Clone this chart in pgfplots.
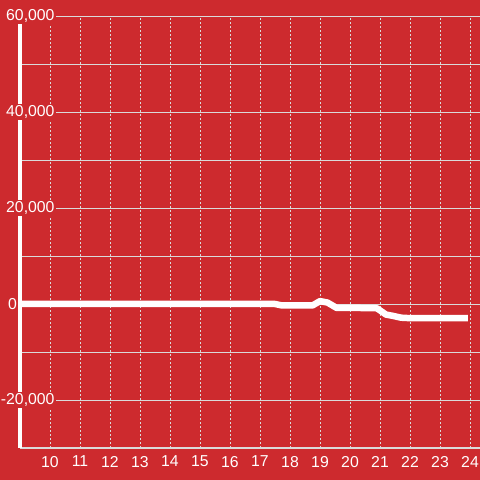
\documentclass[border=0pt]{standalone}
\usepackage{pgfplots}
\pgfplotsset{compat=1.18}
\usepackage{fontspec}
\setmainfont{Liberation Sans}
\definecolor{bg}{RGB}{205,42,46}
\definecolor{grd}{RGB}{218,218,218}
\begin{document}
\begin{tikzpicture}
\useasboundingbox (0,0) rectangle (480bp,480bp);
\fill[bg] (0,0) rectangle (480bp,480bp);
\begin{axis}[
 at={(20bp,32bp)}, anchor=south west,
 width=460bp, height=432bp, scale only axis,
 xmin=9, xmax=24.3333, ymin=-30000, ymax=60000,
 axis x line=bottom, axis y line=left,
 x axis line style={-, draw=grd, line width=1.2bp},
 y axis line style={-, draw=white, line width=3bp},
 xtick={10,...,24}, ytick={-20000,20000,40000,60000},
 yticklabels={{\llap{-}20,000},{20,000},{40,000},{60,000}},
 minor ytick={-10000,10000,30000,50000},
 extra y ticks={0},
 extra y tick labels={0},
 xmajorgrids, ymajorgrids, yminorgrids,
 major x grid style={draw=grd, line width=0.8bp, dash pattern=on 2bp off 2bp},
 major y grid style={draw=grd, line width=0.8bp},
 minor y grid style={draw=grd, line width=0.8bp},
 extra y tick style={grid style={draw=white, line width=1.6bp}, yticklabel style={xshift=2bp}},
 major tick length=0pt, minor tick length=0pt,
 ticklabel style={font=\fontsize{15.8bp}{17bp}\selectfont, text=white},
 yticklabel style={anchor=west, fill=bg, inner sep=1.5bp, xshift=-15.5bp},
 xticklabel style={yshift=-4.5bp},
 /pgf/number format/assume math mode=true,
 /pgf/number format/1000 sep={,},
 scaled y ticks=false,
]
\addplot[white, line width=6.5bp, line join=round] coordinates {
(9,0) (17.5,0) (17.73,-300) (18.75,-300) (19,600) (19.25,300) (19.55,-800) (20.75,-850) (20.9,-900) (21.2,-2200) (21.45,-2500) (21.7,-2850) (22,-2950) (23.93,-2950)
};
\end{axis}
\end{tikzpicture}
\end{document}
